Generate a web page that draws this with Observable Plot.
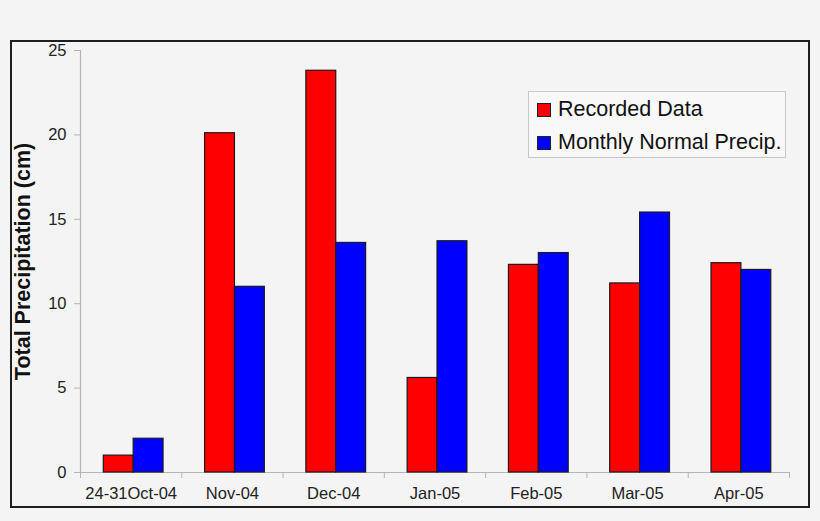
<!DOCTYPE html>
<html>
<head>
<meta charset="utf-8">
<script src="https://cdn.jsdelivr.net/npm/d3@7"></script>
<script src="https://cdn.jsdelivr.net/npm/@observablehq/plot@0.6"></script>
<style>
  html, body { margin: 0; padding: 0; background: #f4f4f4; }
  #wrap { position: relative; width: 820px; height: 521px; font-family: "Liberation Sans", Arial, sans-serif; }
  #frame { position: absolute; left: 10px; top: 40px; width: 800px; height: 468px; box-sizing: border-box; border: 2px solid #1e1e1e; pointer-events: none; }
  #legend { position: absolute; left: 528px; top: 91px; width: 258px; height: 67px; box-sizing: border-box; border: 1px solid #c8c8c8; background: #f8f8f8; }
  .item { position: absolute; left: 8px; display: flex; align-items: center; font-size: 21.5px; color: #111; white-space: nowrap; }
  .sw { width: 14px; height: 14px; box-sizing: border-box; border: 1px solid #222; margin-right: 7px; }
</style>
</head>
<body>
<div id="wrap">
  <div id="chart"></div>
  <div id="frame"></div>
  <div id="legend"></div>
</div>
<script>
const categories = ["24-31Oct-04", "Nov-04", "Dec-04", "Jan-05", "Feb-05", "Mar-05", "Apr-05"];
const recorded = [1.0, 20.1, 23.8, 5.6, 12.3, 11.2, 12.4];
const normal = [2.0, 11.0, 13.6, 13.7, 13.0, 15.4, 12.0];
const seriesNames = ["Recorded Data", "Monthly Normal Precip."];
const seriesColors = ["#ff0000", "#0000ff"];
const yTicks = [0, 5, 10, 15, 20, 25];
const yLabel = "Total Precipitation (cm)";

const rows = categories.flatMap((c, i) => [
  {i, cat: c, s: seriesNames[0], v: recorded[i], k: 0},
  {i, cat: c, s: seriesNames[1], v: normal[i], k: 1}
]);
const cats = categories.map((c, i) => ({i, cat: c}));

const plot = Plot.plot({
  width: 820,
  height: 521,
  marginLeft: 80,
  marginRight: 31,
  marginTop: 50,
  marginBottom: 49,
  style: {background: "transparent", fontFamily: "'Liberation Sans', Arial, sans-serif"},
  x: {domain: [0, categories.length], axis: null},
  y: {domain: [0, 25], axis: null},
  color: {domain: seriesNames, range: seriesColors},
  marks: [
    Plot.ruleY([0], {stroke: "#b4b4b4", strokeWidth: 1.2}),
    Plot.ruleX([0], {stroke: "#b4b4b4", strokeWidth: 1.2}),
    Plot.axisY({ticks: yTicks, tickSize: 6, tickPadding: 8, fontSize: 16.5, stroke: "#b4b4b4", fill: "#222", label: null}),
    Plot.axisX({ticks: d3.range(categories.length + 1), tickFormat: () => "", tickSize: 6, stroke: "#b4b4b4", label: null}),
    Plot.rectY(rows, {
      x1: d => d.i + (d.k === 0 ? 0.23 : 0.525),
      x2: d => d.i + (d.k === 0 ? 0.525 : 0.82),
      y: "v",
      fill: "s",
      stroke: "#1a1a1a",
      strokeWidth: 1.2
    }),
    Plot.text(cats, {x: d => d.i + 0.5, text: "cat", frameAnchor: "bottom", dy: 26, fontSize: 16.5, fill: "#222"}),
    Plot.text([yLabel], {frameAnchor: "left", textAnchor: "middle", rotate: -90, dx: -57, fontSize: 21.5, fontWeight: "bold", fill: "#111"})
  ]
});
document.getElementById("chart").appendChild(plot);

const legend = document.getElementById("legend");
seriesNames.forEach((name, k) => {
  const item = document.createElement("div");
  item.className = "item";
  item.style.top = (k === 0 ? 5 : 38) + "px";
  const sw = document.createElement("div");
  sw.className = "sw";
  sw.style.background = seriesColors[k];
  item.appendChild(sw);
  item.appendChild(document.createTextNode(name));
  legend.appendChild(item);
});
</script>
</body>
</html>
